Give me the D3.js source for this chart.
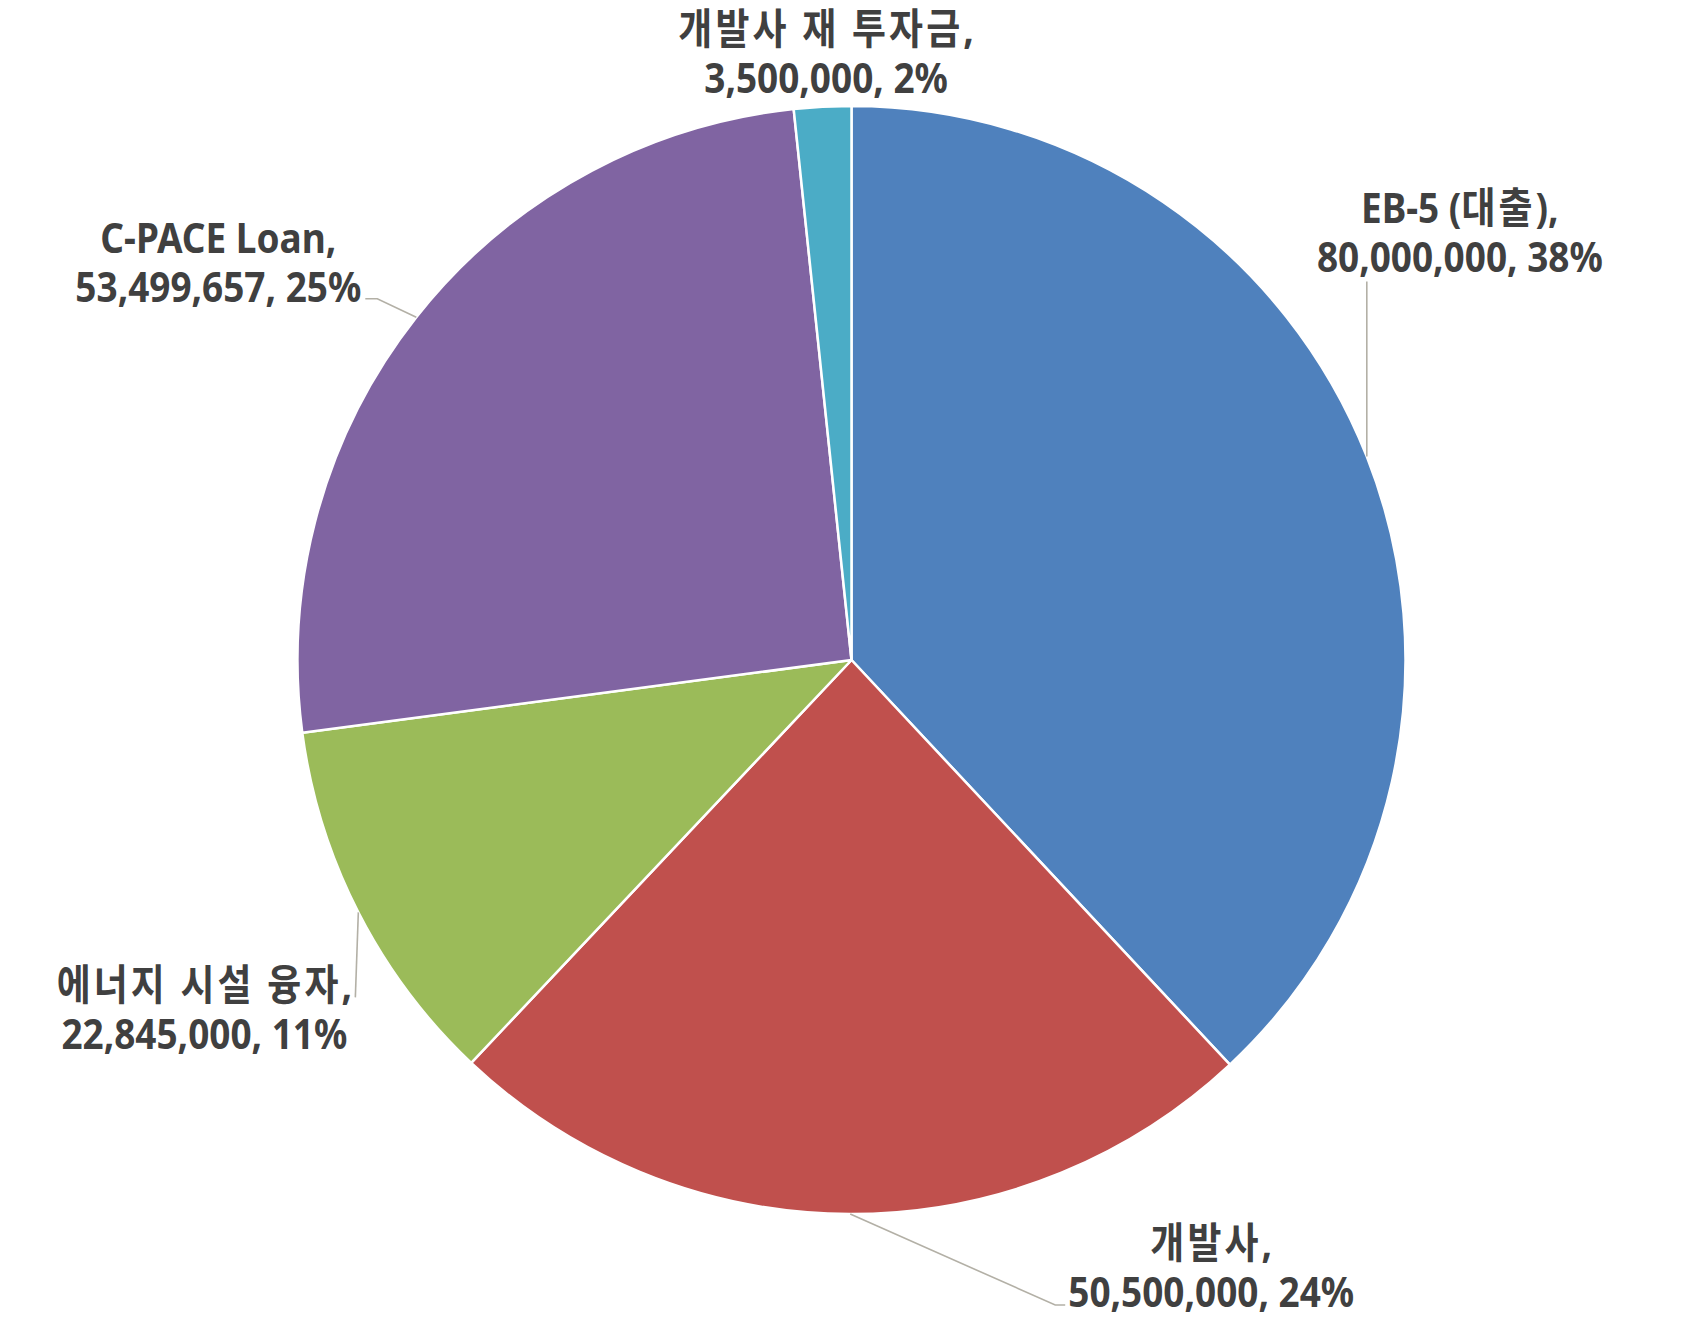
<!DOCTYPE html>
<html>
<head>
<meta charset="utf-8">
<script src="https://cdn.jsdelivr.net/npm/d3@7"></script>
<style>
  body { margin: 0; background: #fff; }
  svg { display: block; }
</style>
</head>
<body>
<div id="chart"></div>
<script>
// data
const categories = ["EB-5 (대출)", "개발사", "에너지 시설 융자", "C-PACE Loan", "개발사 재 투자금"]
const values = [80000000, 50500000, 22845000, 53499657, 3500000]
const percents = ["38%", "24%", "11%", "25%", "2%"]

const colors = ["#4F81BD", "#C0504D", "#9BBB59", "#8064A2", "#4BACC6"]

// label placement relative to the slice's outer edge point (layout only)
const labelLayout = [
  { dx: 93, dy: -234, leader: [[0, -175]] },
  { dx: 361, dy: 44, leader: [[205, 91], [215, 91]] },
  { dx: -154, dy: 88, leader: [[-3, 85]] },
  { dx: -198, dy: -64, leader: [[-39, -18.5], [-51, -18.5]] },
  { dx: 3.5, dy: -63, leader: [] }
]

const width = 1705, height = 1322
const cx = 851.5, cy = 660, radius = 554
const lineGap = 49

const svg = d3.select("#chart")
  .append("svg")
  .attr("width", width)
  .attr("height", height)

const g = svg.append("g").attr("transform", `translate(${cx},${cy})`)

const data = categories.map((c, i) => ({ name: c, value: values[i], pct: percents[i], i: i }))

const pie = d3.pie().sort(null).value(d => d.value)
const arcs = pie(data)

const arc = d3.arc().innerRadius(0).outerRadius(radius)

g.selectAll("path.slice")
  .data(arcs)
  .enter()
  .append("path")
  .attr("class", "slice")
  .attr("d", arc)
  .attr("fill", d => colors[d.data.i])
  .attr("stroke", "#fff")
  .attr("stroke-width", 2.5)
  .attr("stroke-linejoin", "round")

const fmt = d3.format(",")

// edge point of each slice at its mid angle
const edgePoint = d => {
  const a = (d.startAngle + d.endAngle) / 2
  return [radius * Math.sin(a), -radius * Math.cos(a)]
}

// leader lines
g.selectAll("path.leader")
  .data(arcs.filter(d => labelLayout[d.data.i].leader.length))
  .enter()
  .append("path")
  .attr("class", "leader")
  .attr("d", d => {
    const p = edgePoint(d)
    const pts = [p].concat(labelLayout[d.data.i].leader.map(o => [p[0] + o[0], p[1] + o[1]]))
    return d3.line()(pts)
  })
  .attr("fill", "none")
  .attr("stroke", "#b3b0a6")
  .attr("stroke-width", 1.6)

// labels
const labels = g.selectAll("g.label")
  .data(arcs)
  .enter()
  .append("g")
  .attr("class", "label")
  .attr("transform", d => {
    const p = edgePoint(d)
    const L = labelLayout[d.data.i]
    return `translate(${p[0] + L.dx},${p[1] + L.dy}) scale(0.88,1)`
  })
  .attr("fill", "#404040")
  .style("font-family", "'Noto Sans', 'Noto Sans CJK KR', sans-serif")
  .style("font-weight", "bold")
  .style("font-size", "42px")

// first line: hangul runs get a little extra spacing (the source font sets them wider)
labels.append("text")
  .attr("text-anchor", "middle")
  .attr("y", 0)
  .each(function (d) {
    const runs = (d.data.name + ",").match(/[\uAC00-\uD7A3 ]+|[^\uAC00-\uD7A3 ]+/g)
    const sel = d3.select(this)
    runs.forEach(r => {
      const hangul = /[\uAC00-\uD7A3]/.test(r)
      sel.append("tspan")
        .style("letter-spacing", hangul ? "3.5px" : null)
        .text(r)
    })
  })

labels.append("text")
  .attr("text-anchor", "middle")
  .attr("y", lineGap)
  .text(d => fmt(d.data.value) + ", " + d.data.pct)
</script>
</body>
</html>
